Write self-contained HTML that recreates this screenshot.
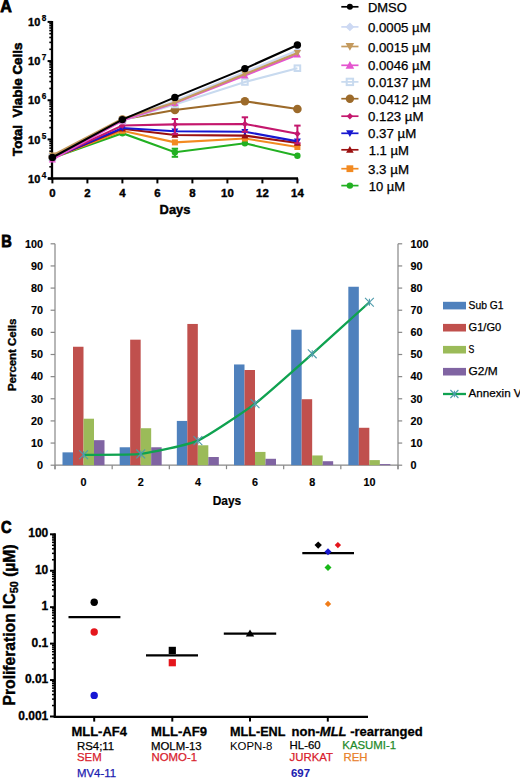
<!DOCTYPE html>
<html><head><meta charset="utf-8"><style>
html,body{margin:0;padding:0;background:#fff;width:520px;height:778px;overflow:hidden}
svg{display:block;font-family:"Liberation Sans", sans-serif}
</style></head><body>
<svg width="520" height="778" viewBox="0 0 520 778">
<rect width="520" height="778" fill="#fff"/>
<text x="0.30" y="12.10" font-size="17.2" font-weight="bold" text-anchor="start" fill="#000" stroke="#000" stroke-width="0.8" textLength="11.6" lengthAdjust="spacingAndGlyphs" >A</text>
<line x1="52.00" y1="21.00" x2="52.00" y2="179.70" stroke="#000" stroke-width="2.3" />
<line x1="48.00" y1="178.50" x2="298.00" y2="178.50" stroke="#000" stroke-width="2.3" />
<line x1="47.60" y1="178.60" x2="52.00" y2="178.60" stroke="#000" stroke-width="2" />
<line x1="49.30" y1="166.81" x2="52.00" y2="166.81" stroke="#000" stroke-width="1.6" />
<line x1="49.30" y1="159.91" x2="52.00" y2="159.91" stroke="#000" stroke-width="1.6" />
<line x1="49.30" y1="155.01" x2="52.00" y2="155.01" stroke="#000" stroke-width="1.6" />
<line x1="49.30" y1="151.22" x2="52.00" y2="151.22" stroke="#000" stroke-width="1.6" />
<line x1="49.30" y1="148.12" x2="52.00" y2="148.12" stroke="#000" stroke-width="1.6" />
<line x1="49.30" y1="145.49" x2="52.00" y2="145.49" stroke="#000" stroke-width="1.6" />
<line x1="49.30" y1="143.22" x2="52.00" y2="143.22" stroke="#000" stroke-width="1.6" />
<line x1="49.30" y1="141.22" x2="52.00" y2="141.22" stroke="#000" stroke-width="1.6" />
<line x1="47.60" y1="139.43" x2="52.00" y2="139.43" stroke="#000" stroke-width="2" />
<line x1="49.30" y1="127.63" x2="52.00" y2="127.63" stroke="#000" stroke-width="1.6" />
<line x1="49.30" y1="120.73" x2="52.00" y2="120.73" stroke="#000" stroke-width="1.6" />
<line x1="49.30" y1="115.84" x2="52.00" y2="115.84" stroke="#000" stroke-width="1.6" />
<line x1="49.30" y1="112.04" x2="52.00" y2="112.04" stroke="#000" stroke-width="1.6" />
<line x1="49.30" y1="108.94" x2="52.00" y2="108.94" stroke="#000" stroke-width="1.6" />
<line x1="49.30" y1="106.32" x2="52.00" y2="106.32" stroke="#000" stroke-width="1.6" />
<line x1="49.30" y1="104.05" x2="52.00" y2="104.05" stroke="#000" stroke-width="1.6" />
<line x1="49.30" y1="102.04" x2="52.00" y2="102.04" stroke="#000" stroke-width="1.6" />
<line x1="47.60" y1="100.25" x2="52.00" y2="100.25" stroke="#000" stroke-width="2" />
<line x1="49.30" y1="88.46" x2="52.00" y2="88.46" stroke="#000" stroke-width="1.6" />
<line x1="49.30" y1="81.56" x2="52.00" y2="81.56" stroke="#000" stroke-width="1.6" />
<line x1="49.30" y1="76.66" x2="52.00" y2="76.66" stroke="#000" stroke-width="1.6" />
<line x1="49.30" y1="72.87" x2="52.00" y2="72.87" stroke="#000" stroke-width="1.6" />
<line x1="49.30" y1="69.77" x2="52.00" y2="69.77" stroke="#000" stroke-width="1.6" />
<line x1="49.30" y1="67.14" x2="52.00" y2="67.14" stroke="#000" stroke-width="1.6" />
<line x1="49.30" y1="64.87" x2="52.00" y2="64.87" stroke="#000" stroke-width="1.6" />
<line x1="49.30" y1="62.87" x2="52.00" y2="62.87" stroke="#000" stroke-width="1.6" />
<line x1="47.60" y1="61.08" x2="52.00" y2="61.08" stroke="#000" stroke-width="2" />
<line x1="49.30" y1="49.28" x2="52.00" y2="49.28" stroke="#000" stroke-width="1.6" />
<line x1="49.30" y1="42.38" x2="52.00" y2="42.38" stroke="#000" stroke-width="1.6" />
<line x1="49.30" y1="37.49" x2="52.00" y2="37.49" stroke="#000" stroke-width="1.6" />
<line x1="49.30" y1="33.69" x2="52.00" y2="33.69" stroke="#000" stroke-width="1.6" />
<line x1="49.30" y1="30.59" x2="52.00" y2="30.59" stroke="#000" stroke-width="1.6" />
<line x1="49.30" y1="27.97" x2="52.00" y2="27.97" stroke="#000" stroke-width="1.6" />
<line x1="49.30" y1="25.70" x2="52.00" y2="25.70" stroke="#000" stroke-width="1.6" />
<line x1="49.30" y1="23.69" x2="52.00" y2="23.69" stroke="#000" stroke-width="1.6" />
<line x1="47.60" y1="21.90" x2="52.00" y2="21.90" stroke="#000" stroke-width="2" />
<text x="40.30" y="182.70" font-size="11.8" font-weight="bold" text-anchor="end" fill="#000" stroke="#000" stroke-width="0.4" textLength="12.2" lengthAdjust="spacingAndGlyphs" >10</text>
<text x="41.80" y="177.70" font-size="8.2" font-weight="bold" text-anchor="start" fill="#000" stroke="#000" stroke-width="0.25" >4</text>
<text x="40.30" y="143.53" font-size="11.8" font-weight="bold" text-anchor="end" fill="#000" stroke="#000" stroke-width="0.4" textLength="12.2" lengthAdjust="spacingAndGlyphs" >10</text>
<text x="41.80" y="138.53" font-size="8.2" font-weight="bold" text-anchor="start" fill="#000" stroke="#000" stroke-width="0.25" >5</text>
<text x="40.30" y="104.35" font-size="11.8" font-weight="bold" text-anchor="end" fill="#000" stroke="#000" stroke-width="0.4" textLength="12.2" lengthAdjust="spacingAndGlyphs" >10</text>
<text x="41.80" y="99.35" font-size="8.2" font-weight="bold" text-anchor="start" fill="#000" stroke="#000" stroke-width="0.25" >6</text>
<text x="40.30" y="65.17" font-size="11.8" font-weight="bold" text-anchor="end" fill="#000" stroke="#000" stroke-width="0.4" textLength="12.2" lengthAdjust="spacingAndGlyphs" >10</text>
<text x="41.80" y="60.18" font-size="8.2" font-weight="bold" text-anchor="start" fill="#000" stroke="#000" stroke-width="0.25" >7</text>
<text x="40.30" y="26.00" font-size="11.8" font-weight="bold" text-anchor="end" fill="#000" stroke="#000" stroke-width="0.4" textLength="12.2" lengthAdjust="spacingAndGlyphs" >10</text>
<text x="41.80" y="21.00" font-size="8.2" font-weight="bold" text-anchor="start" fill="#000" stroke="#000" stroke-width="0.25" >8</text>
<line x1="52.40" y1="178.50" x2="52.40" y2="183.40" stroke="#000" stroke-width="2" />
<text x="52.40" y="197.20" font-size="11.4" font-weight="bold" text-anchor="middle" fill="#000" stroke="#000" stroke-width="0.4" >0</text>
<line x1="87.40" y1="178.50" x2="87.40" y2="183.40" stroke="#000" stroke-width="2" />
<text x="87.40" y="197.20" font-size="11.4" font-weight="bold" text-anchor="middle" fill="#000" stroke="#000" stroke-width="0.4" >2</text>
<line x1="122.40" y1="178.50" x2="122.40" y2="183.40" stroke="#000" stroke-width="2" />
<text x="122.40" y="197.20" font-size="11.4" font-weight="bold" text-anchor="middle" fill="#000" stroke="#000" stroke-width="0.4" >4</text>
<line x1="157.40" y1="178.50" x2="157.40" y2="183.40" stroke="#000" stroke-width="2" />
<text x="157.40" y="197.20" font-size="11.4" font-weight="bold" text-anchor="middle" fill="#000" stroke="#000" stroke-width="0.4" >6</text>
<line x1="192.40" y1="178.50" x2="192.40" y2="183.40" stroke="#000" stroke-width="2" />
<text x="192.40" y="197.20" font-size="11.4" font-weight="bold" text-anchor="middle" fill="#000" stroke="#000" stroke-width="0.4" >8</text>
<line x1="227.40" y1="178.50" x2="227.40" y2="183.40" stroke="#000" stroke-width="2" />
<text x="227.40" y="197.20" font-size="11.4" font-weight="bold" text-anchor="middle" fill="#000" stroke="#000" stroke-width="0.4" >10</text>
<line x1="262.40" y1="178.50" x2="262.40" y2="183.40" stroke="#000" stroke-width="2" />
<text x="262.40" y="197.20" font-size="11.4" font-weight="bold" text-anchor="middle" fill="#000" stroke="#000" stroke-width="0.4" >12</text>
<line x1="297.40" y1="178.50" x2="297.40" y2="183.40" stroke="#000" stroke-width="2" />
<text x="297.40" y="197.20" font-size="11.4" font-weight="bold" text-anchor="middle" fill="#000" stroke="#000" stroke-width="0.4" >14</text>
<text x="175.00" y="214.40" font-size="12.4" font-weight="bold" text-anchor="middle" fill="#000" stroke="#000" stroke-width="0.4" textLength="30.8" lengthAdjust="spacingAndGlyphs" >Days</text>
<text transform="translate(22.4,99.3) rotate(-90)" font-size="13.6" font-weight="bold" text-anchor="middle" stroke="#000" stroke-width="0.6" textLength="113.4" lengthAdjust="spacingAndGlyphs">Total&#160; Viable Cells</text>
<polyline points="52.40,158.00 122.40,133.20 174.90,152.30 244.90,143.30 297.40,155.80" fill="none" stroke="#22b022" stroke-width="2.1"/>
<line x1="174.90" y1="148.70" x2="174.90" y2="156.80" stroke="#22b022" stroke-width="2" />
<line x1="171.70" y1="148.70" x2="178.10" y2="148.70" stroke="#22b022" stroke-width="2" />
<line x1="171.70" y1="156.80" x2="178.10" y2="156.80" stroke="#22b022" stroke-width="2" />
<circle cx="52.40" cy="158.00" r="3.2" fill="#22b022"/>
<circle cx="122.40" cy="133.20" r="3.2" fill="#22b022"/>
<circle cx="174.90" cy="152.30" r="3.2" fill="#22b022"/>
<circle cx="244.90" cy="143.30" r="3.2" fill="#22b022"/>
<circle cx="297.40" cy="155.80" r="3.2" fill="#22b022"/>
<polyline points="52.40,158.00 122.40,130.80 174.90,142.40 244.90,138.50 297.40,147.00" fill="none" stroke="#f28a21" stroke-width="2.1"/>
<rect x="49.40" y="155.00" width="6.0" height="6.0" fill="#f28a21"/>
<rect x="119.40" y="127.80" width="6.0" height="6.0" fill="#f28a21"/>
<rect x="171.90" y="139.40" width="6.0" height="6.0" fill="#f28a21"/>
<rect x="241.90" y="135.50" width="6.0" height="6.0" fill="#f28a21"/>
<rect x="294.40" y="144.00" width="6.0" height="6.0" fill="#f28a21"/>
<polyline points="52.40,158.00 122.40,128.80 174.90,135.00 244.90,135.60 297.40,143.00" fill="none" stroke="#9b1010" stroke-width="2.1"/>
<path d="M52.40 154.50L55.90 160.80L48.90 160.80Z" fill="#9b1010"/>
<path d="M122.40 125.30L125.90 131.60L118.90 131.60Z" fill="#9b1010"/>
<path d="M174.90 131.50L178.40 137.80L171.40 137.80Z" fill="#9b1010"/>
<path d="M244.90 132.10L248.40 138.40L241.40 138.40Z" fill="#9b1010"/>
<path d="M297.40 139.50L300.90 145.80L293.90 145.80Z" fill="#9b1010"/>
<polyline points="52.40,158.00 122.40,128.00 174.90,131.30 244.90,131.70 297.40,141.40" fill="none" stroke="#1717d0" stroke-width="2.1"/>
<path d="M52.40 161.50L55.90 155.20L48.90 155.20Z" fill="#1717d0"/>
<path d="M122.40 131.50L125.90 125.20L118.90 125.20Z" fill="#1717d0"/>
<path d="M174.90 134.80L178.40 128.50L171.40 128.50Z" fill="#1717d0"/>
<path d="M244.90 135.20L248.40 128.90L241.40 128.90Z" fill="#1717d0"/>
<path d="M297.40 144.90L300.90 138.60L293.90 138.60Z" fill="#1717d0"/>
<polyline points="52.40,158.00 122.40,125.50 174.90,124.40 244.90,124.00 297.40,133.70" fill="none" stroke="#c4176d" stroke-width="2.1"/>
<line x1="174.90" y1="119.00" x2="174.90" y2="134.00" stroke="#c4176d" stroke-width="2" />
<line x1="171.70" y1="119.00" x2="178.10" y2="119.00" stroke="#c4176d" stroke-width="2" />
<line x1="171.70" y1="134.00" x2="178.10" y2="134.00" stroke="#c4176d" stroke-width="2" />
<line x1="244.90" y1="117.30" x2="244.90" y2="131.80" stroke="#c4176d" stroke-width="2" />
<line x1="241.70" y1="117.30" x2="248.10" y2="117.30" stroke="#c4176d" stroke-width="2" />
<line x1="241.70" y1="131.80" x2="248.10" y2="131.80" stroke="#c4176d" stroke-width="2" />
<line x1="297.40" y1="125.60" x2="297.40" y2="143.30" stroke="#c4176d" stroke-width="2" />
<line x1="294.20" y1="125.60" x2="300.60" y2="125.60" stroke="#c4176d" stroke-width="2" />
<line x1="294.20" y1="143.30" x2="300.60" y2="143.30" stroke="#c4176d" stroke-width="2" />
<path d="M52.40 154.80L55.60 158.00L52.40 161.20L49.20 158.00Z" fill="#c4176d"/>
<path d="M122.40 122.30L125.60 125.50L122.40 128.70L119.20 125.50Z" fill="#c4176d"/>
<path d="M174.90 121.20L178.10 124.40L174.90 127.60L171.70 124.40Z" fill="#c4176d"/>
<path d="M244.90 120.80L248.10 124.00L244.90 127.20L241.70 124.00Z" fill="#c4176d"/>
<path d="M297.40 130.50L300.60 133.70L297.40 136.90L294.20 133.70Z" fill="#c4176d"/>
<polyline points="52.40,157.00 122.40,119.50 174.90,110.00 244.90,101.30 297.40,109.00" fill="none" stroke="#9c6a2a" stroke-width="2.1"/>
<circle cx="52.40" cy="157.00" r="4.3" fill="#9c6a2a"/>
<circle cx="122.40" cy="119.50" r="4.3" fill="#9c6a2a"/>
<circle cx="174.90" cy="110.00" r="4.3" fill="#9c6a2a"/>
<circle cx="244.90" cy="101.30" r="4.3" fill="#9c6a2a"/>
<circle cx="297.40" cy="109.00" r="4.3" fill="#9c6a2a"/>
<polyline points="52.40,157.00 122.40,120.50 174.90,104.50 244.90,82.00 297.40,68.20" fill="none" stroke="#c8daef" stroke-width="2.1"/>
<rect x="49.60" y="154.20" width="5.6" height="5.6" fill="none" stroke="#c8daef" stroke-width="2"/>
<rect x="119.60" y="117.70" width="5.6" height="5.6" fill="none" stroke="#c8daef" stroke-width="2"/>
<rect x="172.10" y="101.70" width="5.6" height="5.6" fill="none" stroke="#c8daef" stroke-width="2"/>
<rect x="242.10" y="79.20" width="5.6" height="5.6" fill="none" stroke="#c8daef" stroke-width="2"/>
<rect x="294.60" y="65.40" width="5.6" height="5.6" fill="none" stroke="#c8daef" stroke-width="2"/>
<polyline points="52.40,157.70 122.40,120.00 174.90,101.00 244.90,72.00 297.40,50.50" fill="none" stroke="#cdd9f3" stroke-width="2.1"/>
<path d="M52.40 153.70L56.40 157.70L52.40 161.70L48.40 157.70Z" fill="#cdd9f3"/>
<path d="M122.40 116.00L126.40 120.00L122.40 124.00L118.40 120.00Z" fill="#cdd9f3"/>
<path d="M174.90 97.00L178.90 101.00L174.90 105.00L170.90 101.00Z" fill="#cdd9f3"/>
<path d="M244.90 68.00L248.90 72.00L244.90 76.00L240.90 72.00Z" fill="#cdd9f3"/>
<path d="M297.40 46.50L301.40 50.50L297.40 54.50L293.40 50.50Z" fill="#cdd9f3"/>
<polyline points="52.40,159.50 122.40,120.50 174.90,103.00 244.90,75.50 297.40,54.70" fill="none" stroke="#e455cf" stroke-width="2.1"/>
<path d="M52.40 155.90L56.00 162.38L48.80 162.38Z" fill="#e455cf"/>
<path d="M122.40 116.90L126.00 123.38L118.80 123.38Z" fill="#e455cf"/>
<path d="M174.90 99.40L178.50 105.88L171.30 105.88Z" fill="#e455cf"/>
<path d="M244.90 71.90L248.50 78.38L241.30 78.38Z" fill="#e455cf"/>
<path d="M297.40 51.10L301.00 57.58L293.80 57.58Z" fill="#e455cf"/>
<polyline points="52.40,155.50 122.40,118.80 174.90,102.50 244.90,74.00 297.40,53.00" fill="none" stroke="#c49a5e" stroke-width="2.1"/>
<path d="M52.40 159.10L56.00 152.62L48.80 152.62Z" fill="#c49a5e"/>
<path d="M122.40 122.40L126.00 115.92L118.80 115.92Z" fill="#c49a5e"/>
<path d="M174.90 106.10L178.50 99.62L171.30 99.62Z" fill="#c49a5e"/>
<path d="M244.90 77.60L248.50 71.12L241.30 71.12Z" fill="#c49a5e"/>
<path d="M297.40 56.60L301.00 50.12L293.80 50.12Z" fill="#c49a5e"/>
<polyline points="52.40,157.50 122.40,119.60 174.90,97.40 244.90,68.60 297.40,45.00" fill="none" stroke="#000000" stroke-width="2.1"/>
<circle cx="52.40" cy="157.50" r="3.7" fill="#000000"/>
<circle cx="122.40" cy="119.60" r="3.7" fill="#000000"/>
<circle cx="174.90" cy="97.40" r="3.7" fill="#000000"/>
<circle cx="244.90" cy="68.60" r="3.7" fill="#000000"/>
<circle cx="297.40" cy="45.00" r="3.7" fill="#000000"/>
<line x1="341.30" y1="6.80" x2="358.50" y2="6.80" stroke="#000000" stroke-width="1.7" />
<circle cx="349.90" cy="6.80" r="3.0" fill="#000000"/>
<text x="368.00" y="11.80" font-size="12.2" font-weight="normal" text-anchor="start" fill="#000" stroke="#000" stroke-width="0.25" textLength="38.8" lengthAdjust="spacingAndGlyphs" >DMSO</text>
<line x1="341.30" y1="26.90" x2="358.50" y2="26.90" stroke="#cdd9f3" stroke-width="1.7" />
<path d="M349.90 22.50L354.30 26.90L349.90 31.30L345.50 26.90Z" fill="#cdd9f3"/>
<text x="368.00" y="31.90" font-size="12.2" font-weight="normal" text-anchor="start" fill="#000" stroke="#000" stroke-width="0.25" textLength="62.7" lengthAdjust="spacingAndGlyphs" >0.0005 µM</text>
<line x1="341.30" y1="46.50" x2="358.50" y2="46.50" stroke="#c49a5e" stroke-width="1.7" />
<path d="M349.90 50.80L354.20 43.06L345.60 43.06Z" fill="#c49a5e"/>
<text x="368.00" y="51.50" font-size="12.2" font-weight="normal" text-anchor="start" fill="#000" stroke="#000" stroke-width="0.25" textLength="62.7" lengthAdjust="spacingAndGlyphs" >0.0015 µM</text>
<line x1="341.30" y1="65.30" x2="358.50" y2="65.30" stroke="#e455cf" stroke-width="1.7" />
<path d="M349.90 61.00L354.20 68.74L345.60 68.74Z" fill="#e455cf"/>
<text x="368.00" y="70.30" font-size="12.2" font-weight="normal" text-anchor="start" fill="#000" stroke="#000" stroke-width="0.25" textLength="62.7" lengthAdjust="spacingAndGlyphs" >0.0046 µM</text>
<line x1="341.30" y1="81.90" x2="358.50" y2="81.90" stroke="#c8daef" stroke-width="1.7" />
<rect x="346.70" y="78.70" width="6.4" height="6.4" fill="none" stroke="#c8daef" stroke-width="2"/>
<text x="368.00" y="86.90" font-size="12.2" font-weight="normal" text-anchor="start" fill="#000" stroke="#000" stroke-width="0.25" textLength="62.7" lengthAdjust="spacingAndGlyphs" >0.0137 µM</text>
<line x1="341.30" y1="98.70" x2="358.50" y2="98.70" stroke="#9c6a2a" stroke-width="1.7" />
<circle cx="349.90" cy="98.70" r="4.2" fill="#9c6a2a"/>
<text x="368.00" y="103.70" font-size="12.2" font-weight="normal" text-anchor="start" fill="#000" stroke="#000" stroke-width="0.25" textLength="63.0" lengthAdjust="spacingAndGlyphs" >0.0412 µM</text>
<line x1="341.30" y1="116.20" x2="358.50" y2="116.20" stroke="#c4176d" stroke-width="1.7" />
<path d="M349.90 113.00L353.10 116.20L349.90 119.40L346.70 116.20Z" fill="#c4176d"/>
<text x="368.00" y="121.20" font-size="12.2" font-weight="normal" text-anchor="start" fill="#000" stroke="#000" stroke-width="0.25" textLength="55.5" lengthAdjust="spacingAndGlyphs" >0.123 µM</text>
<line x1="341.30" y1="133.30" x2="358.50" y2="133.30" stroke="#1717d0" stroke-width="1.7" />
<path d="M349.90 137.10L353.70 130.26L346.10 130.26Z" fill="#1717d0"/>
<text x="368.00" y="138.30" font-size="12.2" font-weight="normal" text-anchor="start" fill="#000" stroke="#000" stroke-width="0.25" textLength="48.2" lengthAdjust="spacingAndGlyphs" >0.37 µM</text>
<line x1="341.30" y1="149.80" x2="358.50" y2="149.80" stroke="#9b1010" stroke-width="1.7" />
<path d="M349.90 146.00L353.70 152.84L346.10 152.84Z" fill="#9b1010"/>
<text x="368.70" y="154.80" font-size="12.2" font-weight="normal" text-anchor="start" fill="#000" stroke="#000" stroke-width="0.25" textLength="40.3" lengthAdjust="spacingAndGlyphs" >1.1 µM</text>
<line x1="341.30" y1="168.70" x2="358.50" y2="168.70" stroke="#f28a21" stroke-width="1.7" />
<rect x="346.50" y="165.30" width="6.8" height="6.8" fill="#f28a21"/>
<text x="368.00" y="173.70" font-size="12.2" font-weight="normal" text-anchor="start" fill="#000" stroke="#000" stroke-width="0.25" textLength="41.0" lengthAdjust="spacingAndGlyphs" >3.3 µM</text>
<line x1="341.30" y1="185.60" x2="358.50" y2="185.60" stroke="#22b022" stroke-width="1.7" />
<circle cx="349.90" cy="185.60" r="3.2" fill="#22b022"/>
<text x="368.70" y="190.60" font-size="12.2" font-weight="normal" text-anchor="start" fill="#000" stroke="#000" stroke-width="0.25" textLength="36.4" lengthAdjust="spacingAndGlyphs" >10 µM</text>
<text x="1.20" y="247.10" font-size="17" font-weight="bold" text-anchor="start" fill="#000" stroke="#000" stroke-width="0.8" textLength="10.6" lengthAdjust="spacingAndGlyphs" >B</text>
<line x1="55.00" y1="243.80" x2="55.00" y2="469.20" stroke="#878787" stroke-width="1.2" />
<line x1="398.00" y1="243.80" x2="398.00" y2="469.20" stroke="#878787" stroke-width="1.2" />
<line x1="55.00" y1="465.20" x2="398.00" y2="465.20" stroke="#878787" stroke-width="1.2" />
<line x1="50.60" y1="465.20" x2="55.00" y2="465.20" stroke="#878787" stroke-width="1.2" />
<line x1="398.00" y1="465.20" x2="402.20" y2="465.20" stroke="#878787" stroke-width="1.2" />
<text x="43.10" y="469.00" font-size="10.8" font-weight="bold" text-anchor="end" fill="#000" stroke="#000" stroke-width="0.15" >0</text>
<text x="410.60" y="469.00" font-size="10.8" font-weight="bold" text-anchor="start" fill="#000" stroke="#000" stroke-width="0.15" >0</text>
<line x1="50.60" y1="443.06" x2="55.00" y2="443.06" stroke="#878787" stroke-width="1.2" />
<line x1="398.00" y1="443.06" x2="402.20" y2="443.06" stroke="#878787" stroke-width="1.2" />
<text x="43.10" y="446.86" font-size="10.8" font-weight="bold" text-anchor="end" fill="#000" stroke="#000" stroke-width="0.15" >10</text>
<text x="410.60" y="446.86" font-size="10.8" font-weight="bold" text-anchor="start" fill="#000" stroke="#000" stroke-width="0.15" >10</text>
<line x1="50.60" y1="420.92" x2="55.00" y2="420.92" stroke="#878787" stroke-width="1.2" />
<line x1="398.00" y1="420.92" x2="402.20" y2="420.92" stroke="#878787" stroke-width="1.2" />
<text x="43.10" y="424.72" font-size="10.8" font-weight="bold" text-anchor="end" fill="#000" stroke="#000" stroke-width="0.15" >20</text>
<text x="410.60" y="424.72" font-size="10.8" font-weight="bold" text-anchor="start" fill="#000" stroke="#000" stroke-width="0.15" >20</text>
<line x1="50.60" y1="398.78" x2="55.00" y2="398.78" stroke="#878787" stroke-width="1.2" />
<line x1="398.00" y1="398.78" x2="402.20" y2="398.78" stroke="#878787" stroke-width="1.2" />
<text x="43.10" y="402.58" font-size="10.8" font-weight="bold" text-anchor="end" fill="#000" stroke="#000" stroke-width="0.15" >30</text>
<text x="410.60" y="402.58" font-size="10.8" font-weight="bold" text-anchor="start" fill="#000" stroke="#000" stroke-width="0.15" >30</text>
<line x1="50.60" y1="376.64" x2="55.00" y2="376.64" stroke="#878787" stroke-width="1.2" />
<line x1="398.00" y1="376.64" x2="402.20" y2="376.64" stroke="#878787" stroke-width="1.2" />
<text x="43.10" y="380.44" font-size="10.8" font-weight="bold" text-anchor="end" fill="#000" stroke="#000" stroke-width="0.15" >40</text>
<text x="410.60" y="380.44" font-size="10.8" font-weight="bold" text-anchor="start" fill="#000" stroke="#000" stroke-width="0.15" >40</text>
<line x1="50.60" y1="354.50" x2="55.00" y2="354.50" stroke="#878787" stroke-width="1.2" />
<line x1="398.00" y1="354.50" x2="402.20" y2="354.50" stroke="#878787" stroke-width="1.2" />
<text x="43.10" y="358.30" font-size="10.8" font-weight="bold" text-anchor="end" fill="#000" stroke="#000" stroke-width="0.15" >50</text>
<text x="410.60" y="358.30" font-size="10.8" font-weight="bold" text-anchor="start" fill="#000" stroke="#000" stroke-width="0.15" >50</text>
<line x1="50.60" y1="332.36" x2="55.00" y2="332.36" stroke="#878787" stroke-width="1.2" />
<line x1="398.00" y1="332.36" x2="402.20" y2="332.36" stroke="#878787" stroke-width="1.2" />
<text x="43.10" y="336.16" font-size="10.8" font-weight="bold" text-anchor="end" fill="#000" stroke="#000" stroke-width="0.15" >60</text>
<text x="410.60" y="336.16" font-size="10.8" font-weight="bold" text-anchor="start" fill="#000" stroke="#000" stroke-width="0.15" >60</text>
<line x1="50.60" y1="310.22" x2="55.00" y2="310.22" stroke="#878787" stroke-width="1.2" />
<line x1="398.00" y1="310.22" x2="402.20" y2="310.22" stroke="#878787" stroke-width="1.2" />
<text x="43.10" y="314.02" font-size="10.8" font-weight="bold" text-anchor="end" fill="#000" stroke="#000" stroke-width="0.15" >70</text>
<text x="410.60" y="314.02" font-size="10.8" font-weight="bold" text-anchor="start" fill="#000" stroke="#000" stroke-width="0.15" >70</text>
<line x1="50.60" y1="288.08" x2="55.00" y2="288.08" stroke="#878787" stroke-width="1.2" />
<line x1="398.00" y1="288.08" x2="402.20" y2="288.08" stroke="#878787" stroke-width="1.2" />
<text x="43.10" y="291.88" font-size="10.8" font-weight="bold" text-anchor="end" fill="#000" stroke="#000" stroke-width="0.15" >80</text>
<text x="410.60" y="291.88" font-size="10.8" font-weight="bold" text-anchor="start" fill="#000" stroke="#000" stroke-width="0.15" >80</text>
<line x1="50.60" y1="265.94" x2="55.00" y2="265.94" stroke="#878787" stroke-width="1.2" />
<line x1="398.00" y1="265.94" x2="402.20" y2="265.94" stroke="#878787" stroke-width="1.2" />
<text x="43.10" y="269.74" font-size="10.8" font-weight="bold" text-anchor="end" fill="#000" stroke="#000" stroke-width="0.15" >90</text>
<text x="410.60" y="269.74" font-size="10.8" font-weight="bold" text-anchor="start" fill="#000" stroke="#000" stroke-width="0.15" >90</text>
<line x1="50.60" y1="243.80" x2="55.00" y2="243.80" stroke="#878787" stroke-width="1.2" />
<line x1="398.00" y1="243.80" x2="402.20" y2="243.80" stroke="#878787" stroke-width="1.2" />
<text x="43.10" y="247.60" font-size="10.8" font-weight="bold" text-anchor="end" fill="#000" stroke="#000" stroke-width="0.15" >100</text>
<text x="410.60" y="247.60" font-size="10.8" font-weight="bold" text-anchor="start" fill="#000" stroke="#000" stroke-width="0.15" >100</text>
<line x1="55.00" y1="465.20" x2="55.00" y2="469.20" stroke="#878787" stroke-width="1.2" />
<line x1="112.17" y1="465.20" x2="112.17" y2="469.20" stroke="#878787" stroke-width="1.2" />
<line x1="169.33" y1="465.20" x2="169.33" y2="469.20" stroke="#878787" stroke-width="1.2" />
<line x1="226.50" y1="465.20" x2="226.50" y2="469.20" stroke="#878787" stroke-width="1.2" />
<line x1="283.67" y1="465.20" x2="283.67" y2="469.20" stroke="#878787" stroke-width="1.2" />
<line x1="340.83" y1="465.20" x2="340.83" y2="469.20" stroke="#878787" stroke-width="1.2" />
<line x1="398.00" y1="465.20" x2="398.00" y2="469.20" stroke="#878787" stroke-width="1.2" />
<rect x="62.50" y="452.36" width="10.5" height="12.84" fill="#4f81bd"/>
<rect x="73.00" y="346.75" width="10.5" height="118.45" fill="#c0504d"/>
<rect x="83.50" y="418.71" width="10.5" height="46.49" fill="#9bbb59"/>
<rect x="94.00" y="440.18" width="10.5" height="25.02" fill="#8064a2"/>
<text x="83.58" y="485.70" font-size="10.8" font-weight="bold" text-anchor="middle" fill="#000" stroke="#000" stroke-width="0.15" >0</text>
<rect x="119.67" y="447.27" width="10.5" height="17.93" fill="#4f81bd"/>
<rect x="130.17" y="339.67" width="10.5" height="125.53" fill="#c0504d"/>
<rect x="140.67" y="428.23" width="10.5" height="36.97" fill="#9bbb59"/>
<rect x="151.17" y="447.27" width="10.5" height="17.93" fill="#8064a2"/>
<text x="140.75" y="485.70" font-size="10.8" font-weight="bold" text-anchor="middle" fill="#000" stroke="#000" stroke-width="0.15" >2</text>
<rect x="176.83" y="420.92" width="10.5" height="44.28" fill="#4f81bd"/>
<rect x="187.33" y="323.95" width="10.5" height="141.25" fill="#c0504d"/>
<rect x="197.83" y="445.27" width="10.5" height="19.93" fill="#9bbb59"/>
<rect x="208.33" y="457.01" width="10.5" height="8.19" fill="#8064a2"/>
<text x="197.92" y="485.70" font-size="10.8" font-weight="bold" text-anchor="middle" fill="#000" stroke="#000" stroke-width="0.15" >4</text>
<rect x="234.00" y="364.46" width="10.5" height="100.74" fill="#4f81bd"/>
<rect x="244.50" y="370.00" width="10.5" height="95.20" fill="#c0504d"/>
<rect x="255.00" y="451.92" width="10.5" height="13.28" fill="#9bbb59"/>
<rect x="265.50" y="458.78" width="10.5" height="6.42" fill="#8064a2"/>
<text x="255.08" y="485.70" font-size="10.8" font-weight="bold" text-anchor="middle" fill="#000" stroke="#000" stroke-width="0.15" >6</text>
<rect x="291.17" y="329.70" width="10.5" height="135.50" fill="#4f81bd"/>
<rect x="301.67" y="399.22" width="10.5" height="65.98" fill="#c0504d"/>
<rect x="312.17" y="455.46" width="10.5" height="9.74" fill="#9bbb59"/>
<rect x="322.67" y="461.21" width="10.5" height="3.99" fill="#8064a2"/>
<text x="312.25" y="485.70" font-size="10.8" font-weight="bold" text-anchor="middle" fill="#000" stroke="#000" stroke-width="0.15" >8</text>
<rect x="348.33" y="286.75" width="10.5" height="178.45" fill="#4f81bd"/>
<rect x="358.83" y="427.78" width="10.5" height="37.42" fill="#c0504d"/>
<rect x="369.33" y="460.11" width="10.5" height="5.09" fill="#9bbb59"/>
<rect x="379.83" y="464.09" width="10.5" height="1.11" fill="#8064a2"/>
<text x="369.42" y="485.70" font-size="10.8" font-weight="bold" text-anchor="middle" fill="#000" stroke="#000" stroke-width="0.15" >10</text>
<text x="227.00" y="504.60" font-size="12" font-weight="bold" text-anchor="middle" fill="#000" stroke="#000" stroke-width="0.2" textLength="28.5" lengthAdjust="spacingAndGlyphs" >Days</text>
<text transform="translate(16.3,354.8) rotate(-90)" font-size="11" font-weight="bold" text-anchor="middle" stroke="#000" stroke-width="0.35" textLength="72.5" lengthAdjust="spacingAndGlyphs">Percent Cells</text>
<path d="M83.58 454.79C88.35 454.72 131.22 455.09 140.75 453.91C150.28 452.73 188.39 444.81 197.92 440.62C207.44 436.44 245.56 410.88 255.08 403.65C264.61 396.42 302.72 362.29 312.25 353.84C321.78 345.39 364.65 306.55 369.42 302.25" fill="none" stroke="#0fa250" stroke-width="2.3"/>
<path d="M79.18 450.39L87.98 459.19M79.18 459.19L87.98 450.39M83.58 451.27L83.58 458.31" stroke="#4e9bab" stroke-width="1.1" fill="none"/>
<path d="M136.35 449.51L145.15 458.31M136.35 458.31L145.15 449.51M140.75 450.39L140.75 457.43" stroke="#4e9bab" stroke-width="1.1" fill="none"/>
<path d="M193.52 436.22L202.32 445.02M193.52 445.02L202.32 436.22M197.92 437.10L197.92 444.14" stroke="#4e9bab" stroke-width="1.1" fill="none"/>
<path d="M250.68 399.25L259.48 408.05M250.68 408.05L259.48 399.25M255.08 400.13L255.08 407.17" stroke="#4e9bab" stroke-width="1.1" fill="none"/>
<path d="M307.85 349.44L316.65 358.24M307.85 358.24L316.65 349.44M312.25 350.32L312.25 357.36" stroke="#4e9bab" stroke-width="1.1" fill="none"/>
<path d="M365.02 297.85L373.82 306.65M365.02 306.65L373.82 297.85M369.42 298.73L369.42 305.77" stroke="#4e9bab" stroke-width="1.1" fill="none"/>
<rect x="443" y="301.80" width="23" height="7.6" fill="#4f81bd"/>
<text x="468.60" y="309.00" font-size="11.4" font-weight="normal" text-anchor="start" fill="#000" stroke="#000" stroke-width="0.25" textLength="35" lengthAdjust="spacingAndGlyphs" >Sub G1</text>
<rect x="443" y="323.90" width="23" height="7.6" fill="#c0504d"/>
<text x="468.60" y="331.10" font-size="11.4" font-weight="normal" text-anchor="start" fill="#000" stroke="#000" stroke-width="0.25" textLength="32.6" lengthAdjust="spacingAndGlyphs" >G1/G0</text>
<rect x="443" y="345.90" width="23" height="7.6" fill="#9bbb59"/>
<text x="468.60" y="353.10" font-size="11.4" font-weight="normal" text-anchor="start" fill="#000" stroke="#000" stroke-width="0.25" textLength="5.8" lengthAdjust="spacingAndGlyphs" >S</text>
<rect x="443" y="367.90" width="23" height="7.6" fill="#8064a2"/>
<text x="468.60" y="375.10" font-size="11.4" font-weight="normal" text-anchor="start" fill="#000" stroke="#000" stroke-width="0.25" textLength="29.1" lengthAdjust="spacingAndGlyphs" >G2/M</text>
<line x1="443.00" y1="394.00" x2="466.00" y2="394.00" stroke="#0fa250" stroke-width="2.3" />
<path d="M450.40 390.00L458.40 398.00M450.40 398.00L458.40 390.00M454.40 390.80L454.40 397.20" stroke="#4e9bab" stroke-width="1.1" fill="none"/>
<text x="468.60" y="397.20" font-size="11.4" font-weight="normal" text-anchor="start" fill="#000" stroke="#000" stroke-width="0.25" textLength="53" lengthAdjust="spacingAndGlyphs" >Annexin V</text>
<text x="1.10" y="533.10" font-size="17.2" font-weight="bold" text-anchor="start" fill="#000" stroke="#000" stroke-width="0.8" textLength="10.6" lengthAdjust="spacingAndGlyphs" >C</text>
<line x1="54.80" y1="533.30" x2="54.80" y2="717.40" stroke="#000" stroke-width="2.3" />
<line x1="53.70" y1="716.80" x2="368.00" y2="716.80" stroke="#000" stroke-width="2.3" />
<line x1="50.00" y1="716.50" x2="54.80" y2="716.50" stroke="#000" stroke-width="2" />
<text x="48.30" y="719.50" font-size="12" font-weight="bold" text-anchor="end" fill="#000" stroke="#000" stroke-width="0.3" >0.001</text>
<line x1="52.00" y1="705.53" x2="54.80" y2="705.53" stroke="#000" stroke-width="1.5" />
<line x1="52.00" y1="699.11" x2="54.80" y2="699.11" stroke="#000" stroke-width="1.5" />
<line x1="52.00" y1="694.56" x2="54.80" y2="694.56" stroke="#000" stroke-width="1.5" />
<line x1="52.00" y1="691.03" x2="54.80" y2="691.03" stroke="#000" stroke-width="1.5" />
<line x1="52.00" y1="688.14" x2="54.80" y2="688.14" stroke="#000" stroke-width="1.5" />
<line x1="52.00" y1="685.70" x2="54.80" y2="685.70" stroke="#000" stroke-width="1.5" />
<line x1="52.00" y1="683.59" x2="54.80" y2="683.59" stroke="#000" stroke-width="1.5" />
<line x1="52.00" y1="681.73" x2="54.80" y2="681.73" stroke="#000" stroke-width="1.5" />
<line x1="50.00" y1="680.06" x2="54.80" y2="680.06" stroke="#000" stroke-width="2" />
<text x="48.30" y="683.06" font-size="12" font-weight="bold" text-anchor="end" fill="#000" stroke="#000" stroke-width="0.3" >0.01</text>
<line x1="52.00" y1="669.09" x2="54.80" y2="669.09" stroke="#000" stroke-width="1.5" />
<line x1="52.00" y1="662.67" x2="54.80" y2="662.67" stroke="#000" stroke-width="1.5" />
<line x1="52.00" y1="658.12" x2="54.80" y2="658.12" stroke="#000" stroke-width="1.5" />
<line x1="52.00" y1="654.59" x2="54.80" y2="654.59" stroke="#000" stroke-width="1.5" />
<line x1="52.00" y1="651.70" x2="54.80" y2="651.70" stroke="#000" stroke-width="1.5" />
<line x1="52.00" y1="649.26" x2="54.80" y2="649.26" stroke="#000" stroke-width="1.5" />
<line x1="52.00" y1="647.15" x2="54.80" y2="647.15" stroke="#000" stroke-width="1.5" />
<line x1="52.00" y1="645.29" x2="54.80" y2="645.29" stroke="#000" stroke-width="1.5" />
<line x1="50.00" y1="643.62" x2="54.80" y2="643.62" stroke="#000" stroke-width="2" />
<text x="48.30" y="646.62" font-size="12" font-weight="bold" text-anchor="end" fill="#000" stroke="#000" stroke-width="0.3" >0.1</text>
<line x1="52.00" y1="632.65" x2="54.80" y2="632.65" stroke="#000" stroke-width="1.5" />
<line x1="52.00" y1="626.23" x2="54.80" y2="626.23" stroke="#000" stroke-width="1.5" />
<line x1="52.00" y1="621.68" x2="54.80" y2="621.68" stroke="#000" stroke-width="1.5" />
<line x1="52.00" y1="618.15" x2="54.80" y2="618.15" stroke="#000" stroke-width="1.5" />
<line x1="52.00" y1="615.26" x2="54.80" y2="615.26" stroke="#000" stroke-width="1.5" />
<line x1="52.00" y1="612.82" x2="54.80" y2="612.82" stroke="#000" stroke-width="1.5" />
<line x1="52.00" y1="610.71" x2="54.80" y2="610.71" stroke="#000" stroke-width="1.5" />
<line x1="52.00" y1="608.85" x2="54.80" y2="608.85" stroke="#000" stroke-width="1.5" />
<line x1="50.00" y1="607.18" x2="54.80" y2="607.18" stroke="#000" stroke-width="2" />
<text x="48.30" y="610.18" font-size="12" font-weight="bold" text-anchor="end" fill="#000" stroke="#000" stroke-width="0.3" >1</text>
<line x1="52.00" y1="596.21" x2="54.80" y2="596.21" stroke="#000" stroke-width="1.5" />
<line x1="52.00" y1="589.79" x2="54.80" y2="589.79" stroke="#000" stroke-width="1.5" />
<line x1="52.00" y1="585.24" x2="54.80" y2="585.24" stroke="#000" stroke-width="1.5" />
<line x1="52.00" y1="581.71" x2="54.80" y2="581.71" stroke="#000" stroke-width="1.5" />
<line x1="52.00" y1="578.82" x2="54.80" y2="578.82" stroke="#000" stroke-width="1.5" />
<line x1="52.00" y1="576.38" x2="54.80" y2="576.38" stroke="#000" stroke-width="1.5" />
<line x1="52.00" y1="574.27" x2="54.80" y2="574.27" stroke="#000" stroke-width="1.5" />
<line x1="52.00" y1="572.41" x2="54.80" y2="572.41" stroke="#000" stroke-width="1.5" />
<line x1="50.00" y1="570.74" x2="54.80" y2="570.74" stroke="#000" stroke-width="2" />
<text x="48.30" y="573.74" font-size="12" font-weight="bold" text-anchor="end" fill="#000" stroke="#000" stroke-width="0.3" >10</text>
<line x1="52.00" y1="559.77" x2="54.80" y2="559.77" stroke="#000" stroke-width="1.5" />
<line x1="52.00" y1="553.35" x2="54.80" y2="553.35" stroke="#000" stroke-width="1.5" />
<line x1="52.00" y1="548.80" x2="54.80" y2="548.80" stroke="#000" stroke-width="1.5" />
<line x1="52.00" y1="545.27" x2="54.80" y2="545.27" stroke="#000" stroke-width="1.5" />
<line x1="52.00" y1="542.38" x2="54.80" y2="542.38" stroke="#000" stroke-width="1.5" />
<line x1="52.00" y1="539.94" x2="54.80" y2="539.94" stroke="#000" stroke-width="1.5" />
<line x1="52.00" y1="537.83" x2="54.80" y2="537.83" stroke="#000" stroke-width="1.5" />
<line x1="52.00" y1="535.97" x2="54.80" y2="535.97" stroke="#000" stroke-width="1.5" />
<line x1="50.00" y1="534.30" x2="54.80" y2="534.30" stroke="#000" stroke-width="2" />
<text x="48.30" y="537.30" font-size="12" font-weight="bold" text-anchor="end" fill="#000" stroke="#000" stroke-width="0.3" >100</text>
<line x1="94.20" y1="716.30" x2="94.20" y2="721.60" stroke="#000" stroke-width="2" />
<line x1="172.30" y1="716.30" x2="172.30" y2="721.60" stroke="#000" stroke-width="2" />
<line x1="250.00" y1="716.30" x2="250.00" y2="721.60" stroke="#000" stroke-width="2" />
<line x1="327.80" y1="716.30" x2="327.80" y2="721.60" stroke="#000" stroke-width="2" />
<text transform="translate(14.6,624.9) rotate(-90)" font-size="15.8" font-weight="bold" text-anchor="middle" stroke="#000" stroke-width="0.4" textLength="161" lengthAdjust="spacingAndGlyphs">Proliferation IC<tspan font-size="11" dy="3.5">50</tspan><tspan dy="-3.5"> (µM)</tspan></text>
<line x1="68.50" y1="617.20" x2="120.40" y2="617.20" stroke="#000" stroke-width="2.3" />
<line x1="146.00" y1="655.40" x2="198.00" y2="655.40" stroke="#000" stroke-width="2.3" />
<line x1="223.80" y1="633.70" x2="276.20" y2="633.70" stroke="#000" stroke-width="2.3" />
<line x1="302.30" y1="553.20" x2="354.00" y2="553.20" stroke="#000" stroke-width="2.3" />
<circle cx="94.2" cy="602.2" r="3.7" fill="#000"/>
<circle cx="94.2" cy="632" r="3.7" fill="#e4161c"/>
<circle cx="94.2" cy="695.4" r="3.7" fill="#1616d4"/>
<rect x="168.7" y="646.8" width="7.2" height="7.2" fill="#000"/>
<rect x="168.7" y="659.1" width="7.2" height="7.2" fill="#e4161c"/>
<path d="M250 629.6L254.2 636.4L245.8 636.4Z" fill="#000"/>
<path d="M318.2 541.4L321.9 545.1L318.2 548.8000000000001L314.5 545.1Z" fill="#000"/>
<path d="M337.9 541.9L341.09999999999997 545.1L337.9 548.3000000000001L334.7 545.1Z" fill="#e4161c"/>
<path d="M328 548.2L331.5 551.7L328 555.2L324.5 551.7Z" fill="#1818d0"/>
<path d="M328 564.0L331.5 567.5L328 571.0L324.5 567.5Z" fill="#18b818"/>
<path d="M328 600.6999999999999L331.2 603.9L328 607.1L324.8 603.9Z" fill="#f07c18"/>
<text x="99.20" y="736.00" font-size="13.5" font-weight="bold" text-anchor="middle" fill="#000" stroke="#000" stroke-width="0.3" textLength="55.5" lengthAdjust="spacingAndGlyphs" >MLL-AF4</text>
<text x="77.00" y="749.50" font-size="11.4" font-weight="normal" text-anchor="start" fill="#000" stroke="#000" stroke-width="0.25" >RS4;11</text>
<text x="77.00" y="761.30" font-size="11.4" font-weight="normal" text-anchor="start" fill="#d8202c" stroke="#d8202c" stroke-width="0.25" >SEM</text>
<text x="77.00" y="776.80" font-size="11.4" font-weight="normal" text-anchor="start" fill="#1c1cb0" stroke="#1c1cb0" stroke-width="0.25" >MV4-11</text>
<text x="151.00" y="736.00" font-size="13.5" font-weight="bold" text-anchor="start" fill="#000" stroke="#000" stroke-width="0.3" textLength="56" lengthAdjust="spacingAndGlyphs" >MLL-AF9</text>
<text x="151.00" y="749.50" font-size="11.4" font-weight="normal" text-anchor="start" fill="#000" stroke="#000" stroke-width="0.25" >MOLM-13</text>
<text x="151.50" y="761.30" font-size="11.4" font-weight="normal" text-anchor="start" fill="#d8202c" stroke="#d8202c" stroke-width="0.25" >NOMO-1</text>
<text x="230.00" y="736.00" font-size="13.5" font-weight="bold" text-anchor="start" fill="#000" stroke="#000" stroke-width="0.3" textLength="55.4" lengthAdjust="spacingAndGlyphs" >MLL-ENL</text>
<text x="230.00" y="750.00" font-size="11.4" font-weight="normal" text-anchor="start" fill="#000" >KOPN-8</text>
<text x="291.6" y="735.9" font-size="13.5" font-weight="bold" stroke="#000" stroke-width="0.3" textLength="131" lengthAdjust="spacingAndGlyphs">non-<tspan font-style="italic">MLL</tspan> -rearranged</text>
<text x="289.60" y="749.30" font-size="11.4" font-weight="normal" text-anchor="start" fill="#000" stroke="#000" stroke-width="0.25" >HL-60</text>
<text x="289.60" y="761.30" font-size="11.4" font-weight="normal" text-anchor="start" fill="#d8202c" stroke="#d8202c" stroke-width="0.25" >JURKAT</text>
<text x="291.00" y="776.80" font-size="11.4" font-weight="bold" text-anchor="start" fill="#1c1cb0" stroke="#1c1cb0" stroke-width="0.1" >697</text>
<text x="342.30" y="749.30" font-size="11.4" font-weight="normal" text-anchor="start" fill="#1e8a2a" stroke="#1e8a2a" stroke-width="0.25" >KASUMI-1</text>
<text x="343.50" y="761.30" font-size="11.4" font-weight="normal" text-anchor="start" fill="#e8802a" stroke="#e8802a" stroke-width="0.25" >REH</text>
</svg></body></html>
